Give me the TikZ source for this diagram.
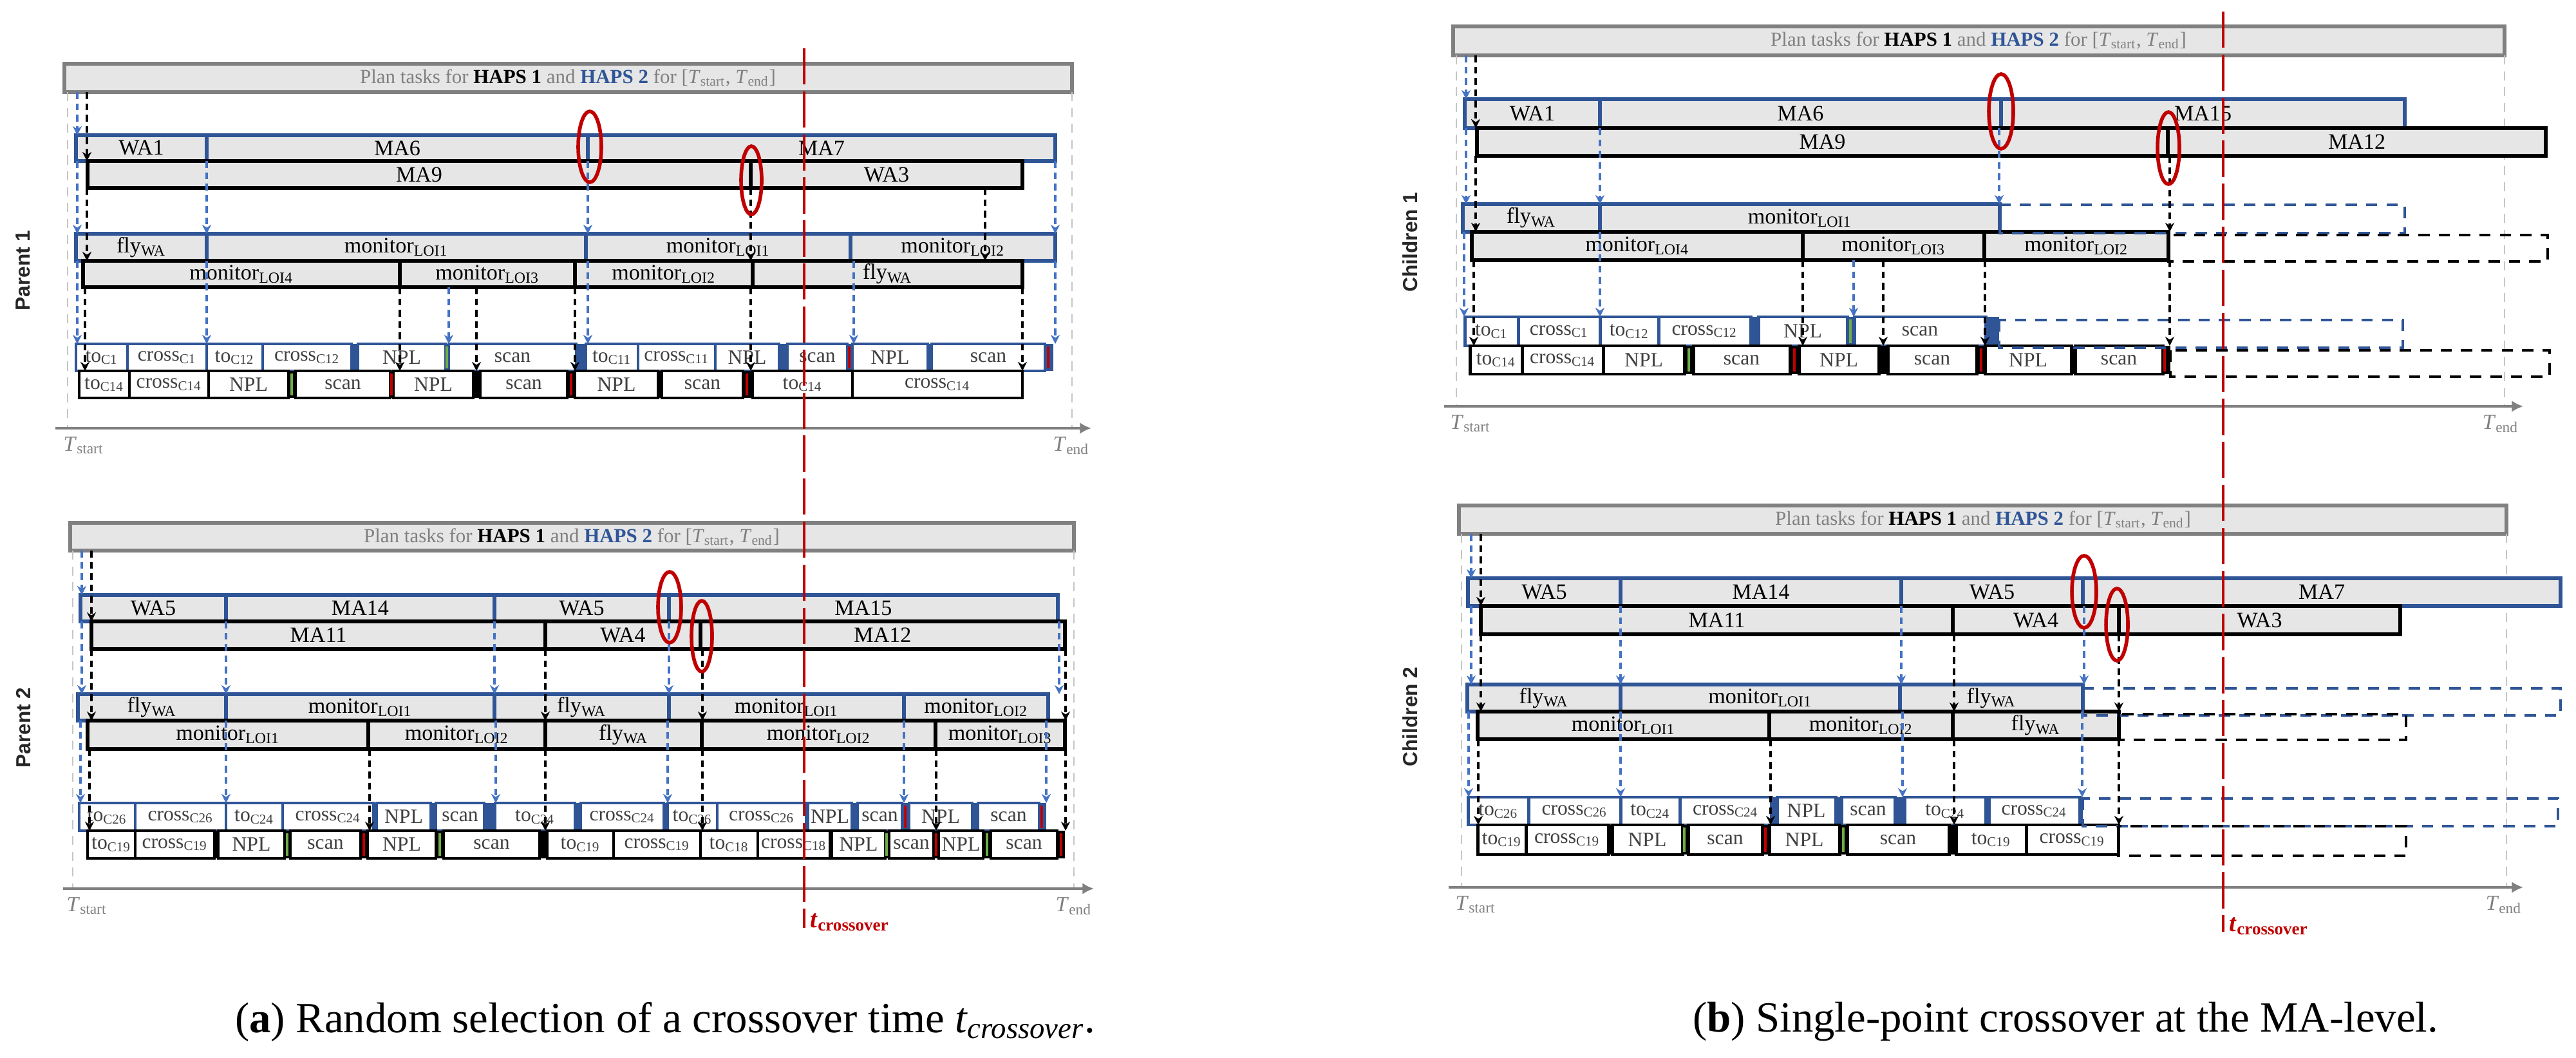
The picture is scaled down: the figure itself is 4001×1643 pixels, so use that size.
\documentclass[tikz,border=0pt]{standalone}
\usepackage{fontspec}
\setmainfont{Liberation Serif}
\setsansfont{Liberation Sans}
\usetikzlibrary{arrows.meta}

\definecolor{hapsblue}{HTML}{2F5597}
\definecolor{linkblue}{HTML}{4472C4}
\definecolor{barred}{HTML}{C00000}
\definecolor{bargreen}{HTML}{70AD47}
\definecolor{rowgray}{HTML}{E6E6E6}
\definecolor{axisgray}{HTML}{808080}
\definecolor{tasktext}{HTML}{404040}

% task names
\newcommand{\flyWA}{fly\textsubscript{WA}}
\newcommand{\monLOI}[1]{monitor\textsubscript{LOI#1}}
\newcommand{\toC}[1]{to\textsubscript{C#1}}
\newcommand{\crossC}[1]{cross\textsubscript{C#1}}
\newcommand{\tstart}{\textit{T}\textsubscript{start}}
\newcommand{\tend}{\textit{T}\textsubscript{end}}
\newcommand{\tcross}{\textbf{\textit{t}}\textsubscript{\textbf{crossover}}}
\newcommand{\plantext}{\textcolor{axisgray}{Plan tasks for} \textbf{HAPS 1} \textcolor{axisgray}{and} \textcolor{hapsblue}{\textbf{HAPS 2}} \textcolor{axisgray}{for [\tstart, \tend]}}

% one MA or flight row: style, y top, y bottom, name prefix, boxes
\newcommand{\marow}[5]{%
  \foreach \xa/\xb/\txt [count=\i] in {#5}{
    \draw[#1] (\xa,#2) rectangle (\xb,#3);
    \node[rowlabel] (#4\i) at ({(\xa+\xb)/2},{(#2+#3)/2}) {\txt};}}

% one task row: colour, y top, y bottom, x from, x to, name prefix, boxes
\newcommand{\taskrow}[7]{%
  \fill[#1] (#4,#2) rectangle (#5,#3);
  \foreach \xa/\xb/\txt [count=\i] in {#7}{
    \draw[draw=#1, fill=white, line width=1.4pt] (\xa,#2) rectangle (\xb,#3);
    \node[tasklabel] (#6\i) at ({(\xa+\xb)/2},{(#2+#3)/2}) {\txt};}}

\begin{document}
\begin{tikzpicture}[x=0.01cm, y=-0.01cm,
  headbox/.style={draw=axisgray, fill=rowgray, line width=1.7pt},
  headtext/.style={font=\fontsize{8.8}{11}\selectfont, inner sep=0pt},
  tworow/.style={draw=hapsblue, fill=rowgray, line width=1.6pt},
  onerow/.style={draw=black, fill=rowgray, line width=1.6pt},
  rowlabel/.style={font=\fontsize{9.7}{10}\selectfont, inner sep=0pt},
  tasklabel/.style={font=\fontsize{9}{9}\selectfont, text=tasktext, inner sep=0pt},
  twolink/.style={draw=linkblue, line width=0.9pt, dash pattern=on 3pt off 2pt, -{Stealth[length=4pt,width=4pt]}},
  onelink/.style={draw=black, line width=1pt, dash pattern=on 3pt off 2pt, -{Stealth[length=4pt,width=4pt]}},
  guide/.style={draw=gray!45, line width=0.8pt, dash pattern=on 4pt off 3pt},
  timeaxis/.style={draw=axisgray, line width=1.3pt, -{Latex[length=5pt,width=5pt]}},
  tlabel/.style={text=axisgray, font=\fontsize{9.5}{10}\selectfont, anchor=north west, inner sep=0pt},
  cutline/.style={draw=barred, line width=1.2pt, dash pattern=on 16pt off 3pt},
  cutmark/.style={draw=barred, line width=1.6pt},
  cutlabel/.style={text=barred, font=\fontsize{11}{12}\selectfont, anchor=base west, inner sep=0pt},
  twoslot/.style={draw=hapsblue, line width=1.2pt, dash pattern=on 5pt off 4pt},
  oneslot/.style={draw=black, line width=1.2pt, dash pattern=on 5pt off 4pt},
  sep/.style={line width=1.3pt},
  sidelabel/.style={font=\sffamily\bfseries\fontsize{9}{10}\selectfont, text=black!85, rotate=90},
  caption/.style={font=\fontsize{19}{22}\selectfont}]

\useasboundingbox (0,0) rectangle (4001,1643);

%%%%%%%%%% (a) parent 1
\draw[headbox] (100,99) rectangle (1665,143);
\node[headtext] (p1-head) at (882,121) {\plantext};
\draw[guide] (105,143) -- (105,665);
\draw[guide] (1665,143) -- (1665,665);
\draw[timeaxis] (86,665) -- (1695,665);
\node[tlabel] (p1-start) at (98,678) {\tstart};
\node[tlabel] (p1-end) at (1635,678) {\tend};
\node[sidelabel] (p1-name) at (36,420) {Parent 1};

%MA level
\marow{tworow}{210}{250}{p1a-}{118/321/WA1, 321/913/MA6, 913/1639/MA7}
\marow{onerow}{250}{292}{p1b-}{136/1166/MA9, 1166/1588/WA3}
%flight level
\marow{tworow}{363}{405}{p1c-}{118/321/\flyWA, 321/910/\monLOI{1}, 910/1321/\monLOI{1}, 1321/1639/\monLOI{2}}
\marow{onerow}{405}{446}{p1d-}{129/621/\monLOI{4}, 621/893/\monLOI{3}, 893/1169/\monLOI{2}, 1169/1588/\flyWA}
%task level
\taskrow{hapsblue}{534}{576}{118}{1636}{p1e-}{118/198/\toC{1}, 198/321/\crossC{1}, 321/408/\toC{12}, 408/546/\crossC{12}, 556/692/NPL, 697/895/scan, 910/991/\toC{11}, 991/1111/\crossC{11}, 1111/1210/NPL, 1223/1316/scan, 1324/1441/NPL, 1447/1623/scan}
\taskrow{black}{576}{618}{123}{1588}{p1f-}{123/201/\toC{14}, 201/324/\crossC{14}, 324/448/NPL, 459/606/scan, 611/735/NPL, 746/881/scan, 893/1022/NPL, 1028/1154/scan, 1169/1324/\toC{14}, 1324/1588/\crossC{14}}
\foreach \x/\clr in {694/bargreen, 1319/barred, 1628/barred}
  \draw[sep, \clr] (\x,538) -- (\x,572);
\foreach \x/\clr in {453/bargreen, 608/barred, 887/barred, 1160/barred}
  \draw[sep, \clr] (\x,580) -- (\x,614);

%links
\foreach \x/\ya/\yb in {120/143/210, 120/250/363, 120/405/534, 321/250/363, 321/405/534, 913/250/363, 913/405/534, 1639/250/363, 1639/405/534, 697/446/534, 1326/405/534}
  \draw[twolink] (\x,\ya) -- (\x,\yb);
\foreach \x/\ya/\yb in {135/143/250, 135/292/405, 132/446/576, 621/446/576, 740/446/576, 893/446/576, 1166/292/405, 1166/446/576, 1530/292/405, 1588/446/576}
  \draw[onelink] (\x,\ya) -- (\x,\yb);
\draw[cutmark] (916,228) ellipse [x radius=18, y radius=55];
\draw[cutmark] (1167,280) ellipse [x radius=16, y radius=53];

%%%%%%%%%% (a) parent 2
\draw[headbox] (109,812) rectangle (1668,855);
\node[headtext] (p2-head) at (888,834) {\plantext};
\draw[guide] (113,855) -- (113,1380);
\draw[guide] (1668,855) -- (1668,1380);
\draw[timeaxis] (98,1380) -- (1699,1380);
\node[tlabel] (p2-start) at (103,1393) {\tstart};
\node[tlabel] (p2-end) at (1639,1393) {\tend};
\node[sidelabel] (p2-name) at (37,1130) {Parent 2};

%MA level
\marow{tworow}{924}{965}{p2a-}{125/351/WA5, 351/768/MA14, 768/1039/WA5, 1039/1643/MA15}
\marow{onerow}{965}{1008}{p2b-}{142/847/MA11, 847/1088/WA4, 1088/1654/MA12}
%flight level
\marow{tworow}{1078}{1119}{p2c-}{121/351/\flyWA, 351/768/\monLOI{1}, 768/1039/\flyWA, 1039/1404/\monLOI{1}, 1404/1628/\monLOI{2}}
\marow{onerow}{1119}{1163}{p2d-}{136/572/\monLOI{1}, 572/847/\monLOI{2}, 847/1090/\flyWA, 1090/1453/\monLOI{2}, 1453/1654/\monLOI{3}}
%task level
\taskrow{hapsblue}{1247}{1290}{123}{1625}{p2e-}{123/210/\toC{26}, 210/351/\crossC{26}, 351/439/\toC{24}, 439/580/\crossC{24}, 585/669/NPL, 677/752/scan, 769/893/\toC{24}, 902/1031/\crossC{24}, 1037/1114/\toC{26}, 1114/1252/\crossC{26}, 1255/1323/NPL, 1332/1401/scan, 1412/1510/NPL, 1519/1614/scan}
\taskrow{black}{1290}{1333}{136}{1654}{p2f-}{136/210/\toC{19}, 210/333/\crossC{19}, 339/442/NPL, 451/560/scan, 571/677/NPL, 689/838/scan, 850/953/\toC{19}, 953/1088/\crossC{19}, 1088/1177/\toC{18}, 1177/1289/\crossC{18}, 1292/1375/NPL, 1381/1450/scan, 1458/1527/NPL, 1539/1642/scan}
\foreach \x/\clr in {1406/barred, 1618/barred}
  \draw[sep, \clr] (\x,1251) -- (\x,1286);
\foreach \x/\clr in {446/bargreen, 565/barred, 683/bargreen, 1377/bargreen, 1454/barred, 1533/bargreen, 1648/barred}
  \draw[sep, \clr] (\x,1294) -- (\x,1329);

%links
\foreach \x/\ya/\yb in {127/855/924, 127/965/1078, 125/1119/1247, 351/965/1078, 351/1119/1247, 768/965/1078, 770/1119/1247, 1039/965/1078, 1037/1119/1247, 1404/1119/1247, 1645/965/1078, 1625/1119/1247}
  \draw[twolink] (\x,\ya) -- (\x,\yb);
\foreach \x/\ya/\yb in {142/855/965, 142/1008/1119, 139/1163/1290, 847/1008/1119, 847/1163/1290, 574/1163/1290, 1091/1008/1119, 1091/1163/1290, 1454/1163/1290, 1655/1008/1119, 1655/1163/1290}
  \draw[onelink] (\x,\ya) -- (\x,\yb);
\draw[cutmark] (1040,943) ellipse [x radius=18, y radius=55];
\draw[cutmark] (1090,988) ellipse [x radius=16, y radius=55];

%crossover time (a)
\draw[cutline] (1249,75) -- (1249,1441);
\node[cutlabel] (a-cross) at (1258,1440) {\tcross};

%%%%%%%%%% (b) children 1
\draw[headbox] (2257,41) rectangle (3890,86);
\node[headtext] (c1-head) at (3073,63) {\plantext};
\draw[guide] (2262,86) -- (2262,631);
\draw[guide] (3890,86) -- (3890,631);
\draw[timeaxis] (2243,631) -- (3919,631);
\node[tlabel] (c1-start) at (2252,644) {\tstart};
\node[tlabel] (c1-end) at (3855,644) {\tend};
\node[sidelabel] (c1-name) at (2190,376) {Children 1};

%MA level
\marow{tworow}{154}{199}{c1a-}{2275/2485/WA1, 2485/3108/MA6, 3108/3735/MA15}
\marow{onerow}{199}{242}{c1b-}{2294/3367/MA9, 3367/3954/MA12}
%flight level
\marow{tworow}{317}{360}{c1c-}{2272/2485/\flyWA, 2485/3106/\monLOI{1}}
\marow{onerow}{360}{404}{c1d-}{2286/2800/\monLOI{4}, 2800/3082/\monLOI{3}, 3082/3368/\monLOI{2}}
\draw[twoslot] (3106,318) rectangle (3735,362);
\draw[oneslot] (3368,365) rectangle (3957,406);
%task level
\taskrow{hapsblue}{492}{537}{2275}{3105}{c1e-}{2275/2358/\toC{1}, 2358/2485/\crossC{1}, 2485/2576/\toC{12}, 2576/2719/\crossC{12}, 2731/2869/NPL, 2880/3084/scan}
\taskrow{black}{537}{581}{2283}{3371}{c1f-}{2283/2364/\toC{14}, 2364/2490/\crossC{14}, 2490/2616/NPL, 2630/2780/scan, 2794/2918/NPL, 2932/3070/scan, 3083/3217/NPL, 3223/3359/scan}
\draw[sep, bargreen] (2874,496) -- (2874,533);
\foreach \x/\clr in {2623/bargreen, 2787/barred, 3077/barred, 3362/barred}
  \draw[sep, \clr] (\x,541) -- (\x,577);
\draw[twoslot] (3105,497) rectangle (3732,540);
\draw[oneslot] (3371,544) rectangle (3960,585);

%links
\foreach \x/\ya/\yb in {2277/86/154, 2277/199/317, 2274/360/492, 2485/199/317, 2485/360/492, 2879/404/492, 3105/199/317}
  \draw[twolink] (\x,\ya) -- (\x,\yb);
\foreach \x/\ya/\yb in {2292/86/199, 2292/242/360, 2289/404/537, 2800/404/537, 2925/404/537, 3083/404/537, 3370/242/360, 3370/404/537}
  \draw[onelink] (\x,\ya) -- (\x,\yb);
\draw[cutmark] (3108,173) ellipse [x radius=19, y radius=58];
\draw[cutmark] (3368,230) ellipse [x radius=17, y radius=56];

%%%%%%%%%% (b) children 2
\draw[headbox] (2266,785) rectangle (3893,829);
\node[headtext] (c2-head) at (3080,807) {\plantext};
\draw[guide] (2270,829) -- (2270,1378);
\draw[guide] (3893,829) -- (3893,1378);
\draw[timeaxis] (2250,1378) -- (3919,1378);
\node[tlabel] (c2-start) at (2260,1391) {\tstart};
\node[tlabel] (c2-end) at (3860,1391) {\tend};
\node[sidelabel] (c2-name) at (2190,1113) {Children 2};

%MA level
\marow{tworow}{898}{941}{c2a-}{2280/2517/WA5, 2517/2953/MA14, 2953/3235/WA5, 3235/3977/MA7}
\marow{onerow}{941}{985}{c2b-}{2300/3033/MA11, 3033/3291/WA4, 3291/3728/WA3}
%flight level
\marow{tworow}{1063}{1105}{c2c-}{2279/2517/\flyWA, 2517/2951/\monLOI{1}, 2951/3235/\flyWA}
\marow{onerow}{1105}{1148}{c2d-}{2295/2748/\monLOI{1}, 2748/3033/\monLOI{2}, 3033/3291/\flyWA}
\draw[twoslot] (3235,1069) rectangle (3977,1111);
\draw[oneslot] (3291,1109) rectangle (3737,1149);
%task level
\taskrow{hapsblue}{1238}{1281}{2280}{3235}{c2e-}{2280/2374/\toC{26}, 2374/2517/\crossC{26}, 2517/2609/\toC{24}, 2609/2751/\crossC{24}, 2760/2851/NPL, 2860/2943/scan, 2958/3084/\toC{24}, 3089/3230/\crossC{24}}
\taskrow{black}{1281}{1327}{2295}{3290}{c2f-}{2295/2370/\toC{19}, 2370/2498/\crossC{19}, 2504/2613/NPL, 2622/2737/scan, 2748/2857/NPL, 2869/3027/scan, 3038/3147/\toC{19}, 3147/3290/\crossC{19}}
\foreach \x/\clr in {2616/bargreen, 2742/barred, 2863/bargreen}
  \draw[sep, \clr] (\x,1285) -- (\x,1323);
\draw[twoslot] (3235,1240) rectangle (3973,1283);
\draw[oneslot] (3290,1283) rectangle (3737,1329);

%links
\foreach \x/\ya/\yb in {2285/829/898, 2285/941/1063, 2281/1105/1238, 2517/941/1063, 2517/1105/1238, 2953/941/1063, 2955/1105/1238, 3237/941/1063, 3234/1105/1238}
  \draw[twolink] (\x,\ya) -- (\x,\yb);
\foreach \x/\ya/\yb in {2300/829/941, 2300/985/1105, 2296/1148/1281, 3035/985/1105, 3035/1148/1281, 2750/1148/1281, 3291/985/1105, 3291/1148/1281}
  \draw[onelink] (\x,\ya) -- (\x,\yb);
\draw[cutmark] (3237,919) ellipse [x radius=19, y radius=56];
\draw[cutmark] (3288,970) ellipse [x radius=17, y radius=56];

%crossover time (b)
\draw[cutline] (3453,18) -- (3453,1447);
\node[cutlabel] (b-cross) at (3462,1446) {\tcross};

%captions
\node[caption] (a-cap) at (1033,1587) {(\textbf{a}) Random selection of a crossover time \textit{t\textsubscript{crossover}}.};
\node[caption] (b-cap) at (3208,1587) {(\textbf{b}) Single-point crossover at the MA-level.};
\end{tikzpicture}
\end{document}
